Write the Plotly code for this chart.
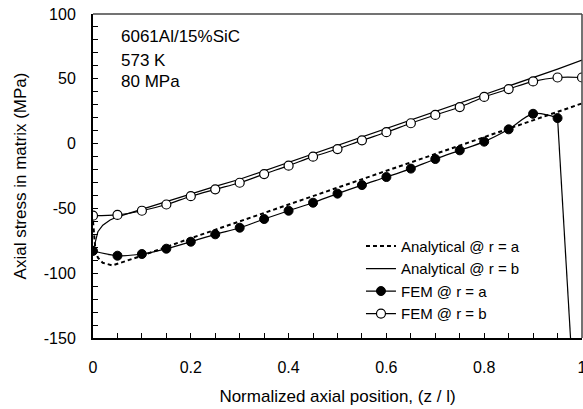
import plotly.graph_objects as go

# ---- data ----
fem_x = [0, 0.05, 0.1, 0.15, 0.2, 0.25, 0.3, 0.35, 0.4, 0.45, 0.5,
         0.55, 0.6, 0.65, 0.7, 0.75, 0.8, 0.85, 0.9, 0.95, 1.0]
fem_a = [-82.8, -86.5, -85.2, -81.1, -75.7, -70.0, -64.9, -58.2, -51.8, -45.6, -38.6,
         -32.0, -25.8, -19.3, -11.9, -5.2, 1.5, 11.0, 23.0, 19.7, -300.0]
fem_b = [-55.6, -55.0, -51.8, -47.0, -40.6, -35.3, -30.2, -23.5, -17.0, -10.1, -4.2,
         2.5, 8.8, 15.7, 22.1, 28.2, 36.0, 42.1, 48.0, 51.0, 51.0]

ana_a_x = [0, 0.005, 0.01, 0.02, 0.04, 0.1, 0.2, 0.3, 0.4, 0.5, 0.6, 0.7, 0.8, 0.9, 1.0]
ana_a = [-60, -82, -88, -92, -94, -86.5, -73, -60, -47, -34, -21, -8, 5, 18, 31]

ana_b_x = [0, 0.005, 0.01, 0.02, 0.035, 0.05, 0.1, 0.15, 0.2, 0.25, 0.3, 0.35, 0.4, 0.45,
           0.5, 0.55, 0.6, 0.65, 0.7, 0.75, 0.8, 0.85, 0.9, 0.95, 1.0]
ana_b = [-83, -75, -68, -63, -59, -56.5, -50.5, -45, -38.5, -33, -27.5, -21, -14.5, -7.5,
         -1.5, 5, 11.5, 18, 24.5, 31, 37.5, 44, 51, 57.5, 64.5]

labels = ["Analytical @ r = a", "Analytical @ r = b", "FEM @ r = a", "FEM @ r = b"]
notes = ["6061Al/15%SiC", "573 K", "80 MPa"]
x_ticks = [0, 0.2, 0.4, 0.6, 0.8, 1.0]
x_ticktext = ["0", "0.2", "0.4", "0.6", "0.8", "1"]
y_ticks = [-150, -100, -50, 0, 50, 100]
y_ticktext = ["-150", "-100", "-50", "0", "50", "100"]

FONT = "Arial, Liberation Sans, sans-serif"

fig = go.Figure()
fig.add_trace(go.Scatter(x=ana_a_x, y=ana_a, mode="lines", name=labels[0],
                         line=dict(color="black", width=2, dash="4px,3px")))
fig.add_trace(go.Scatter(x=ana_b_x, y=ana_b, mode="lines", name=labels[1],
                         line=dict(color="black", width=1.2)))
fig.add_trace(go.Scatter(x=fem_x[-2:], y=fem_a[-2:], mode="lines", showlegend=False,
                         line=dict(color="black", width=1.2)))
fig.add_trace(go.Scatter(x=fem_x[:-1], y=fem_a[:-1], mode="lines+markers", name=labels[2],
                         line=dict(color="black", width=1.2, shape="spline"),
                         marker=dict(symbol="circle", size=9, color="black",
                                     line=dict(color="black", width=1))))
fig.add_trace(go.Scatter(x=fem_x, y=fem_b, mode="lines+markers", name=labels[3],
                         line=dict(color="black", width=1.2, shape="spline"),
                         marker=dict(symbol="circle", size=9, color="white",
                                     line=dict(color="black", width=1.2))))

ny = [0.93, 0.858, 0.793]
for t, yy in zip(notes, ny):
    fig.add_annotation(x=0.0527, y=yy, xref="paper", yref="paper", text=t,
                       showarrow=False, xanchor="left", yanchor="middle",
                       font=dict(family=FONT, size=17, color="black"))

# top / right frame
fig.add_shape(type="line", xref="paper", yref="paper", x0=0, x1=1, y0=1, y1=1,
              line=dict(color="#444", width=1.5))
fig.add_shape(type="line", xref="paper", yref="paper", x0=1, x1=1, y0=0, y1=1,
              line=dict(color="#444", width=1.5))

fig.update_layout(
    width=583, height=409,
    margin=dict(l=92.5, r=1.3, t=14, b=70.7, autoexpand=False),
    paper_bgcolor="white", plot_bgcolor="white",
    font=dict(family=FONT, size=16, color="black"),
    showlegend=True,
    legend=dict(x=0.548, y=0.334, xanchor="left", yanchor="top",
                bgcolor="rgba(0,0,0,0)", font=dict(family=FONT, size=15),
                tracegroupgap=0),
    xaxis=dict(range=[0, 1], tickvals=x_ticks, ticktext=x_ticktext, automargin=False,
               ticklabeloverflow="allow",
               ticks="inside", ticklen=5, tickwidth=1.2, tickcolor="black",
               minor=dict(dtick=0.05, ticks="inside", ticklen=5, tickwidth=1.2, tickcolor="black"),
               showline=True, linecolor="black", linewidth=2, showgrid=False, zeroline=False,
               ticklabelstandoff=14, tickfont=dict(size=16),
               title=dict(text="Normalized axial position, (z / l)", font=dict(size=17), standoff=15)),
    yaxis=dict(range=[-150, 100], tickvals=y_ticks, ticktext=y_ticktext, automargin=False,
               ticklabeloverflow="allow",
               ticks="inside", ticklen=5, tickwidth=1.2, tickcolor="black",
               minor=dict(dtick=10, ticks="inside", ticklen=5, tickwidth=1.2, tickcolor="black"),
               showline=True, linecolor="black", linewidth=2, showgrid=False, zeroline=False,
               ticklabelstandoff=12, tickfont=dict(size=16),
               title=dict(text="Axial stress in matrix (MPa)", font=dict(size=17), standoff=13)),
)

fig.write_html("out.html", config={"responsive": False, "displayModeBar": False},
               post_script="document.body.style.margin='0px';document.body.style.padding='0px';"
                           "document.body.style.overflow='hidden';")
